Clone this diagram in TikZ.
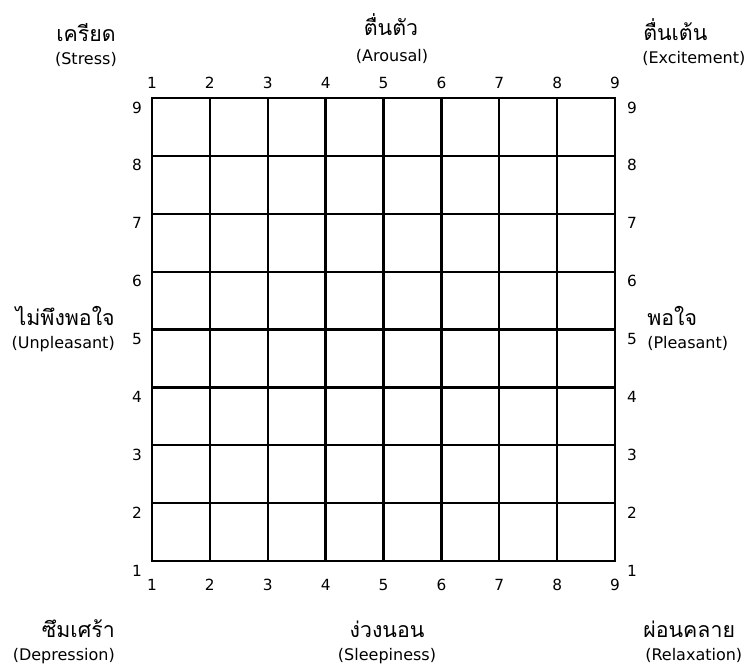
\documentclass[tikz,border=0pt]{standalone}
\usepackage{fontspec}
\setmainfont{DejaVu Sans}
\newfontfamily\thaifont[Script=Thai]{Loma}
\usetikzlibrary{calc}

\begin{document}
\begin{tikzpicture}[x=0.75pt, y=-0.75pt,
  gridline/.style={line width=1.7pt},
  num/.style={font=\fontsize{11.5}{13}\selectfont, inner sep=0pt},
  thai/.style={font=\thaifont\fontsize{16}{19}\selectfont, inner sep=0pt},
  eng/.style={font=\fontsize{12}{14}\selectfont, inner sep=0pt}]
  \useasboundingbox (0,0) rectangle (749,669);
  \coordinate (NW) at (152,98);
  \coordinate (SE) at (615,561);
  % grid
  \foreach \i in {1,...,7} {
    \draw[gridline] ($(NW)+(\i*57.875,0)$) -- ($(NW)+(\i*57.875,463)$);
    \draw[gridline] ($(NW)+(0,\i*57.875)$) -- ($(NW)+(463,\i*57.875)$);
  }
  \draw[gridline] (NW) rectangle (SE);
  % scale numbers
  \foreach \i [evaluate=\i as \x using 152+57.875*(\i-1),
               evaluate=\i as \y using 576-57.875*(\i-1)] in {1,...,9} {
    \node[num, anchor=base] (top\i) at (\x,88) {\i};
    \node[num, anchor=base] (bot\i) at (\x,590) {\i};
    \node[num, anchor=base] (left\i) at (137,\y) {\i};
    \node[num, anchor=base] (right\i) at (632,\y) {\i};
  }
  % corner and side labels
  \node[thai, anchor=base east] (stressth) at (116,41) {เครียด};
  \node[eng, anchor=base east] (stress) at (117,64) {(Stress)};
  \node[thai, anchor=base] (arousalth) at (391,35) {ตื่นตัว};
  \node[eng, anchor=base] (arousal) at (392,61) {(Arousal)};
  \node[thai, anchor=base west] (excitth) at (643,40) {ตื่นเต้น};
  \node[eng, anchor=base west] (excit) at (642,63) {(Excitement)};
  \node[thai, anchor=base east] (unplth) at (115,325) {ไม่พึงพอใจ};
  \node[eng, anchor=base east] (unpl) at (115,348) {(Unpleasant)};
  \node[thai, anchor=base west] (plth) at (647,325) {พอใจ};
  \node[eng, anchor=base west] (pl) at (647,348) {(Pleasant)};
  \node[thai, anchor=base east] (deprth) at (115,637) {ซึมเศร้า};
  \node[eng, anchor=base east] (depr) at (115,660) {(Depression)};
  \node[thai, anchor=base] (sleepth) at (387,637) {ง่วงนอน};
  \node[eng, anchor=base] (sleep) at (387,660) {(Sleepiness)};
  \node[thai, anchor=base west] (relaxth) at (643,637) {ผ่อนคลาย};
  \node[eng, anchor=base west] (relax) at (645,660) {(Relaxation)};
\end{tikzpicture}
\end{document}
